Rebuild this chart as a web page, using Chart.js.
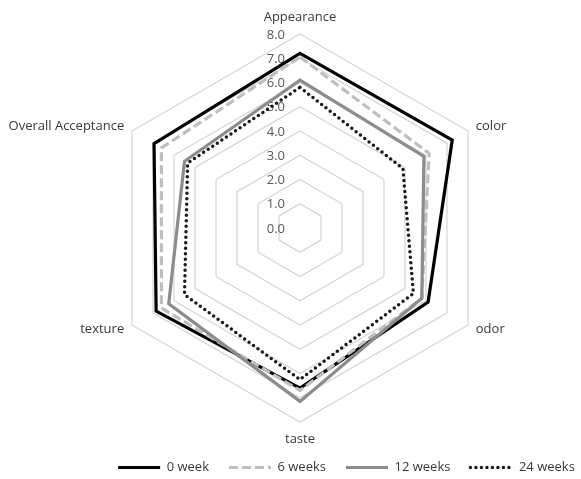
<!DOCTYPE html>
<html>
<head>
<meta charset="utf-8">
<script src="https://cdn.jsdelivr.net/npm/chart.js@4"></script>
<style>
  html, body { margin: 0; padding: 0; background: #ffffff; }
  #wrap { width: 581px; height: 479px; }
</style>
</head>
<body>
<div id="wrap"><canvas id="chart" width="581" height="479"></canvas></div>
<script>
// Sensory attributes (radar axes, clockwise from the top)
const attributes = ['Appearance', 'color', 'odor', 'taste', 'texture', 'Overall Acceptance'];

// Storage time series labels
const seriesNames = ['0 week', '6 weeks', '12 weeks', '24 weeks'];

// Mean sensory scores per storage time
const week0  = [7.2, 7.25, 6.1, 6.6, 6.85, 6.95];
const week6  = [7.05, 6.15, 5.8, 6.7, 6.6, 6.6];
const week12 = [6.1, 5.9, 5.8, 7.15, 6.25, 5.5];
const week24 = [5.8, 4.9, 5.4, 6.25, 5.5, 5.35];

// Score axis
const scoreMin = 0;
const scoreMax = 8;
const scoreStep = 1;

const FONT = '"Open Sans", "DejaVu Sans", sans-serif';

// Plot geometry of the radar
const CENTER_X = 300;
const CENTER_Y = 228;
const RADIUS = 194;

// Legend offset from its default centred spot
const LEGEND_DX = 56;
const LEGEND_DY = 7;

// Score labels up the vertical axis and the attribute names round the outside
const radarText = {
  id: 'radarText',
  afterLayout(chart) {
    const lg = chart.legend;
    lg.left += LEGEND_DX; lg.right += LEGEND_DX;
    lg.top += LEGEND_DY; lg.bottom += LEGEND_DY;
  },
  beforeDatasetsDraw(chart) {
    const scale = chart.scales.r;
    const ctx = chart.ctx;
    ctx.save();
    ctx.font = '13px ' + FONT;
    ctx.fillStyle = '#595959';
    ctx.textAlign = 'right';
    ctx.textBaseline = 'middle';
    scale.ticks.forEach(t => {
      const d = scale.getDistanceFromCenterForValue(t.value);
      ctx.fillText(t.value.toFixed(1), scale.xCenter - 15, scale.yCenter - d + 1);
    });
    ctx.restore();
  },
  afterDraw(chart) {
    const scale = chart.scales.r;
    const ctx = chart.ctx;
    ctx.save();
    ctx.font = '13px ' + FONT;
    ctx.fillStyle = '#383838';
    ctx.textBaseline = 'middle';
    chart.data.labels.forEach((text, i) => {
      const angle = scale.getIndexAngle(i);
      const s = Math.sin(angle);
      const vertical = Math.abs(s) < 0.01;
      const p = scale.getPointPosition(i, scale.drawingArea + (vertical ? 17 : 9));
      ctx.textAlign = vertical ? 'center' : (s > 0 ? 'left' : 'right');
      ctx.fillText(text, p.x, p.y);
    });
    ctx.restore();
  }
};

function series(label, data, color, width, dash, cap, order) {
  return {
    label, data,
    borderColor: color,
    backgroundColor: color,
    borderWidth: width,
    borderDash: dash,
    borderCapStyle: cap,
    borderJoinStyle: 'miter',
    fill: false,
    tension: 0,
    pointRadius: 0,
    pointHoverRadius: 0,
    clip: false,
    order
  };
}

new Chart(document.getElementById('chart'), {
  type: 'radar',
  data: {
    labels: attributes,
    datasets: [
      series(seriesNames[0], week0,  '#000000', 3.2, [],       'butt',  4),
      series(seriesNames[1], week6,  '#bfbfbf', 3.2, [9, 4],   'butt',  3),
      series(seriesNames[2], week12, '#8c8c8c', 3.2, [],       'butt',  2),
      series(seriesNames[3], week24, '#1a1a1a', 3.5, [0, 5.5], 'round', 1)
    ]
  },
  options: {
    responsive: false,
    devicePixelRatio: 1,
    animation: false,
    layout: { padding: { top: 0, bottom: 2, left: 0, right: 0 } },
    scales: {
      r: {
        min: scoreMin,
        max: scoreMax,
        ticks: { stepSize: scoreStep, display: false },
        grid: { color: '#d4d4d4', lineWidth: 1.2, circular: false },
        angleLines: { display: false },
        pointLabels: { display: false },
        afterFit(scale) {
          scale.xCenter = CENTER_X;
          scale.yCenter = CENTER_Y;
          scale.drawingArea = RADIUS;
        }
      }
    },
    plugins: {
      tooltip: { enabled: false },
      legend: {
        position: 'bottom',
        labels: {
          usePointStyle: true,
          pointStyleWidth: 42,
          boxHeight: 13,
          padding: 20,
          color: '#383838',
          font: { family: FONT, size: 13 },
          sort: (a, b) => a.datasetIndex - b.datasetIndex,
          generateLabels(chart) {
            const items = Chart.defaults.plugins.legend.labels.generateLabels(chart);
            items.forEach(item => {
              const ds = chart.data.datasets[item.datasetIndex];
              item.pointStyle = 'line';
              item.strokeStyle = ds.borderColor;
              item.lineWidth = ds.borderWidth;
              item.lineDash = ds.borderDash;
              item.lineCap = ds.borderCapStyle;
            });
            return items;
          }
        }
      }
    }
  },
  plugins: [radarText]
});
</script>
</body>
</html>
